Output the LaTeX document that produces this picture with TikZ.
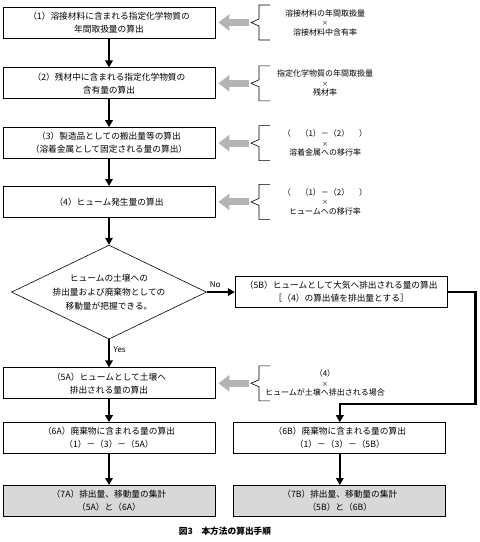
\documentclass[tikz,border=0pt]{standalone}
\usepackage{fontspec}
\setmainfont{Noto Sans CJK JP}
\usetikzlibrary{arrows.meta, positioning, shapes.geometric}
\definecolor{feedgray}{HTML}{B4B4B4}
\definecolor{sumgray}{HTML}{D8D8D8}

\begin{document}
\begin{tikzpicture}[
  x=1pt, y=-1pt,
  stepbox/.style={draw, line width=0.8pt, align=center, minimum width=212pt, minimum height=31pt, inner sep=2pt, font=\fontsize{8.7}{13}\selectfont},
  sumbox/.style={stepbox, fill=sumgray},
  decision/.style={draw, diamond, aspect=2, line width=0.6pt, align=center, inner sep=0pt, minimum width=195pt, minimum height=94pt, font=\fontsize{8.7}{14}\selectfont},
  formula/.style={align=center, font=\fontsize{8}{9.5}\selectfont},
  flow/.style={-{Triangle[length=7pt, width=7.5pt]}, line width=2.6pt},
  feed/.style={-{Triangle[length=11pt, width=16pt]}, line width=7pt, feedgray},
  lbrace/.pic={
    \draw[line width=0.6pt] (11,-17.5) -- (0,-17.5) -- (0,-3.5) -- (-8,0) -- (0,3.5) -- (0,17.5) -- (11,17.5);
    \coordinate (-tip) at (-10,0);
  }
]
\useasboundingbox (0,0) rectangle (480,542);
\coordinate (fx) at (325,0);
\coordinate (bx) at (259,0);

% main steps
\node[stepbox] (calc1) at (109,22.5) {（1）溶接材料に含まれる指定化学物質の\\年間取扱量の算出};
\node[stepbox, below=29pt of calc1] (calc2) {（2）残材中に含まれる指定化学物質の\\含有量の算出};
\node[stepbox, below=28pt of calc2] (calc3) {（3）製造品としての搬出量等の算出\\（溶着金属として固定される量の算出）};
\node[stepbox, below=27pt of calc3] (calc4) {（4）ヒューム発生量の算出};
\node[decision, below=27pt of calc4] (judge) {ヒュームの土壌への\\排出量および廃棄物としての\\移動量が把握できる。};
\node[stepbox, right=28pt of judge] (air5b) {（5B）ヒュームとして大気へ排出される量の算出\\［（4）の算出値を排出量とする］};
\node[stepbox, below=28pt of judge] (soil5a) {（5A）ヒュームとして土壌へ\\排出される量の算出};
\node[stepbox, below=23pt of soil5a] (waste6a) {（6A）廃棄物に含まれる量の算出\\（1）－（3）－（5A）};
\node[stepbox, right=18pt of waste6a] (waste6b) {（6B）廃棄物に含まれる量の算出\\（1）－（3）－（5B）};
\node[sumbox, below=31pt of waste6a] (total7a) {（7A）排出量、移動量の集計\\（5A）と（6A）};
\node[sumbox, right=18pt of total7a] (total7b) {（7B）排出量、移動量の集計\\（5B）と（6B）};

% formulas
\node[formula] (f1) at (calc1 -| fx) {溶接材料の年間取扱量\\{\fontsize{6}{9.5}\selectfont ×}\\溶接材料中含有率};
\node[formula] (f2) at (calc2 -| fx) {指定化学物質の年間取扱量\\{\fontsize{6}{9.5}\selectfont ×}\\残材率};
\node[formula] (f3) at (calc3 -| fx) {（\hspace{1.2em}（1）－（2）\hspace{1.2em}）\\{\fontsize{6}{9.5}\selectfont ×}\\溶着金属への移行率};
\node[formula] (f4) at (calc4 -| fx) {（\hspace{1.2em}（1）－（2）\hspace{1.2em}）\\{\fontsize{6}{9.5}\selectfont ×}\\ヒュームへの移行率};
\node[formula] (f5) at (soil5a -| fx) {（4）\\{\fontsize{6}{9.5}\selectfont ×}\\ヒュームが土壌へ排出される場合};

\foreach \s/\n in {calc1/1, calc2/2, calc3/3, calc4/4, soil5a/5} {
  \pic (b\n) at (\s -| bx) {lbrace};
  \draw[feed] (b\n-tip) -- ([xshift=3pt]\s.east);
}

\foreach \a/\b in {calc1/calc2, calc2/calc3, calc3/calc4, calc4/judge, soil5a/waste6a, waste6a/total7a, waste6b/total7b}
  \draw[flow] (\a) -- (\b);

\draw[flow] (judge) -- node[pos=0.3, above, font=\fontsize{8}{9}\selectfont]{No} (air5b);
\draw[flow] (judge) -- node[pos=0.35, right, font=\fontsize{8}{9}\selectfont]{Yes} (soil5a);
\draw[flow, line join=miter] (air5b.east) -- ++(28,0) -- ++(0,112) -| (waste6b);

\node[font=\fontsize{8.7}{10}\selectfont\bfseries] (caption) at (225,531) {図3　本方法の算出手順};
\end{tikzpicture}
\end{document}
